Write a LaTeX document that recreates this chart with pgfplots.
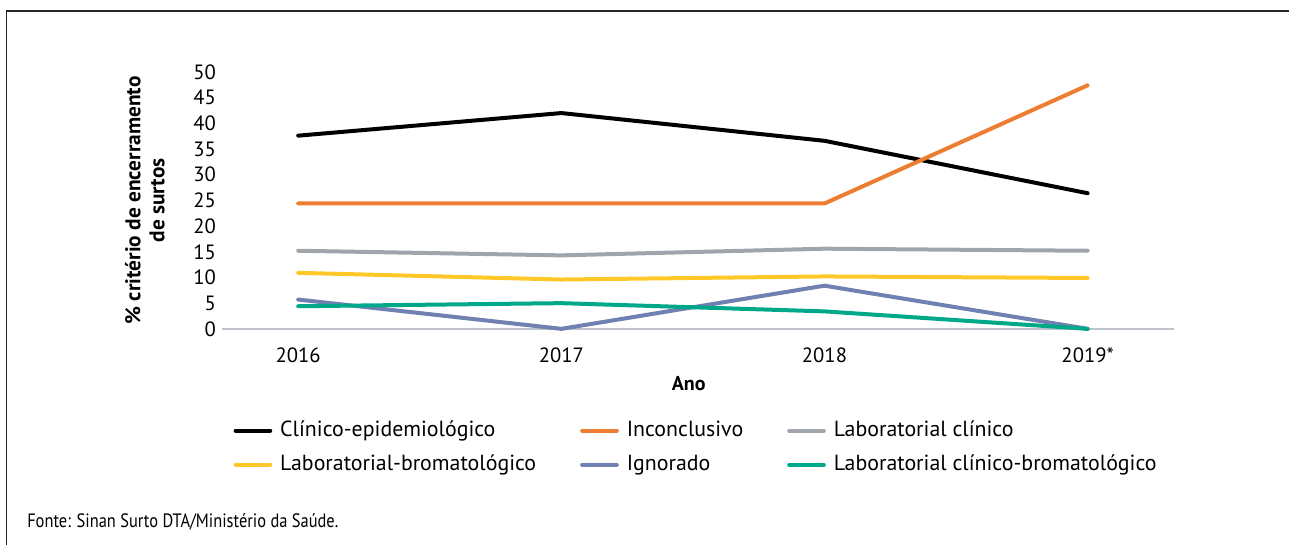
\documentclass[border=0pt]{standalone}
\usepackage{pgfplots}
\pgfplotsset{compat=1.18}
\usepackage{fontspec}
\setmainfont{PT Sans}
\newfontfamily\condfont[FakeStretch=0.85]{PT Sans}
\definecolor{cblack}{HTML}{000000}
\definecolor{corange}{HTML}{ED7D31}
\definecolor{cgray}{HTML}{A0A5AC}
\definecolor{cyellow}{HTML}{FFC828}
\definecolor{cpurple}{HTML}{7080B0}
\definecolor{cgreen}{HTML}{00A88A}
\definecolor{axgray}{HTML}{BFC3CB}
\begin{document}
\begin{tikzpicture}
\path (0,0) rectangle (967.5pt,408.75pt);
\draw[line width=0.9pt, color=black!85] (5pt,0pt) -- (5pt,400.5pt) -- (967.5pt,400.5pt);
\begin{axis}[
  at={(166.5pt,162pt)}, anchor=south west,
  scale only axis, width=714.75pt, height=192.75pt,
  xmin=-0.29, xmax=3.33, ymin=0, ymax=50,
  clip=false,
  axis line style={draw=none},
  tick style={draw=none},
  xtick={0,1,2,3},
  xticklabels={2016,2017,2018,2019*},
  ytick={0,5,...,50},
  extra y ticks={0},
  extra y tick labels={},
  extra y tick style={ymajorgrids=true, major grid style={color=axgray, line width=1.4pt}},
  /pgf/number format/assume math mode=true,
  ticklabel style={font=\fontsize{15.5}{15.5}\selectfont},
  xticklabel style={yshift=-11pt},
  yticklabel style={xshift=-1pt},
  xlabel={Ano},
  xlabel style={font=\bfseries\fontsize{15}{15}\selectfont, at={(axis description cs:0.49,0)}, anchor=north, yshift=-32pt},
  ylabel={\% critério de encerramento\\[3pt]de surtos},
  ylabel style={font=\bfseries\fontsize{16}{15}\selectfont, align=center, at={(axis description cs:-0.081,0.5)}, anchor=center},
  legend columns=3,
  legend cell align=left,
  legend style={at={(axis description cs:0.012,-0.355)}, anchor=north west, draw=none, fill=none, inner sep=0pt,
    font=\fontsize{16.4}{16.4}\selectfont,
    nodes={inner sep=0pt, text height=12pt, text depth=3.5pt},
    row sep=10pt,
    /tikz/every even column/.append style={column sep=33pt},
    /tikz/every odd column/.append style={column sep=6pt}},
  legend image code/.code={\draw[#1, line width=3pt, line cap=round] (0pt,0pt) -- (26pt,0pt);},
  every axis plot/.append style={line width=3pt, line cap=round, line join=round},
]
\addplot[color=cblack] coordinates {(0,37.6) (1,42.0) (2,36.6) (3,26.4)};
\addlegendentry{Clínico-epidemiológico}
\addplot[color=corange] coordinates {(0,24.4) (1,24.4) (2,24.4) (3,47.4)};
\addlegendentry{Inconclusivo}
\addplot[color=cgray] coordinates {(0,15.2) (1,14.3) (2,15.6) (3,15.2)};
\addlegendentry{Laboratorial clínico}
\addplot[color=cyellow] coordinates {(0,10.9) (1,9.6) (2,10.2) (3,9.9)};
\addlegendentry{Laboratorial-bromatológico}
\addplot[color=cpurple] coordinates {(0,5.7) (1,0) (2,8.4) (3,0)};
\addlegendentry{Ignorado}
\addplot[color=cgreen] coordinates {(0,4.4) (1,5.0) (2,3.4) (3,0)};
\addlegendentry{Laboratorial clínico-bromatológico}
\end{axis}
\node[anchor=west, inner sep=0pt, font=\condfont\fontsize{14.5}{14.5}\selectfont] at (20.25pt,17.25pt) {Fonte: Sinan Surto DTA/Ministério da Saúde.};
\end{tikzpicture}
\end{document}
